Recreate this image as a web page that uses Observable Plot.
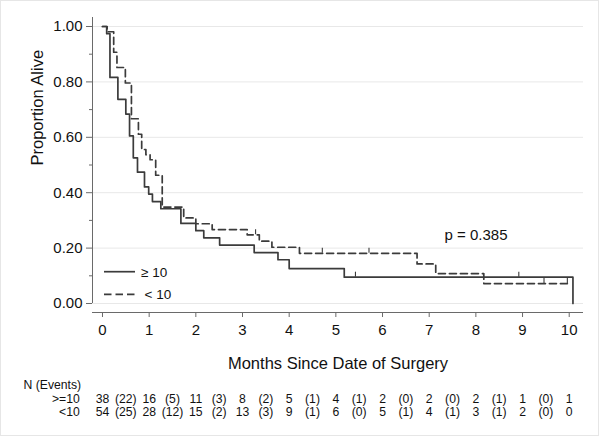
<!DOCTYPE html>
<html>
<head>
<meta charset="utf-8">
<script src="https://cdn.jsdelivr.net/npm/d3@7"></script>
<script src="https://cdn.jsdelivr.net/npm/@observablehq/plot@0.6"></script>
<style>
  html, body { margin: 0; padding: 0; background: #fff; }
  #wrap { position: relative; width: 600px; height: 436px; overflow: hidden; background: #fff;
          font-family: "Liberation Sans", Arial, sans-serif; }
  #wrap > svg { position: absolute; left: 0; top: 0; }
  #border { position: absolute; left: 0; top: 0; width: 599px; height: 436px; box-sizing: border-box;
            border: 1px solid #e6e6e6; pointer-events: none; }
</style>
</head>
<body>
<div id="wrap"></div>
<script>
// ---- Data ----
// Group ">= 10": Kaplan-Meier step points (time in months, proportion alive)
const geTime = [0, 0.09, 0.16, 0.33, 0.50, 0.58, 0.66, 0.75, 0.90, 0.99, 1.07, 1.25, 1.68, 2.00, 2.17, 2.51, 3.25, 3.76, 4.00, 5.18, 10.08];
const geSurv = [1, 0.974, 0.816, 0.737, 0.684, 0.605, 0.526, 0.474, 0.421, 0.395, 0.368, 0.342, 0.289, 0.263, 0.237, 0.211, 0.184, 0.158, 0.126, 0.095, 0];
const geCensorTime = [5.42, 8.92];
const geCensorSurv = [0.095, 0.095];

// Group "< 10"
const ltTime = [0, 0.10, 0.24, 0.31, 0.49, 0.62, 0.77, 0.84, 0.93, 1.02, 1.14, 1.28, 1.74, 2.00, 2.35, 3.10, 3.36, 3.63, 4.22, 6.74, 7.14, 8.17, 9.96];
const ltSurv = [1, 0.981, 0.907, 0.852, 0.796, 0.667, 0.611, 0.556, 0.537, 0.519, 0.463, 0.348, 0.309, 0.288, 0.267, 0.248, 0.225, 0.203, 0.181, 0.143, 0.108, 0.072, 0.072];
const ltCensorTime = [3.28, 4.71, 5.71, 9.46, 9.96];
const ltCensorSurv = [0.248, 0.181, 0.181, 0.072, 0.072];

// Number at risk table
const riskTimes = [0, 1, 2, 3, 4, 5, 6, 7, 8, 9, 10];
const geN = [38, 16, 11, 8, 5, 4, 2, 2, 2, 1, 1];
const geEvents = [22, 5, 3, 2, 1, 1, 0, 0, 1, 0];
const ltN = [54, 28, 15, 13, 9, 6, 5, 4, 3, 2, 0];
const ltEvents = [25, 12, 2, 3, 1, 0, 1, 1, 1, 0];
const rowLabels = [">=10", "<10"];
const legendLabels = ["\u2265 10", "< 10"];

// Axes
const xTicks = [0, 1, 2, 3, 4, 5, 6, 7, 8, 9, 10];
const yTicks = [0, 0.2, 0.4, 0.6, 0.8, 1.0];
const yMinorTicks = [0.1, 0.3, 0.5, 0.7, 0.9];
const xDomain = [-0.214, 10.306];
const yDomain = [0, 1.0325];
const xLabel = "Months Since Date of Surgery";
const yLabel = "Proportion Alive";
const tableTitle = "N (Events)";
const pLabel = "p = 0.385";

// ---- Build tables ----
const ge = geTime.map((t, i) => ({t, s: geSurv[i]}));
const lt = ltTime.map((t, i) => ({t, s: ltSurv[i]}));
const geC = geCensorTime.map((t, i) => ({t, s: geCensorSurv[i]}));
const ltC = ltCensorTime.map((t, i) => ({t, s: ltCensorSurv[i]}));
const midTimes = riskTimes.slice(1).map((t, i) => (riskTimes[i] + t) / 2);
const row = (ns, evs) => [
  ...riskTimes.map((t, i) => ({t, label: String(ns[i])})),
  ...midTimes.map((t, i) => ({t, label: `(${evs[i]})`}))
];
const row1 = row(geN, geEvents);
const row2 = row(ltN, ltEvents);

const lineColor = "#3b3b3b";
const axisColor = "#6a6a6a";
const textColor = "#111";

const plot = Plot.plot({
  width: 600,
  height: 436,
  marginLeft: 92,
  marginRight: 17,
  marginTop: 17,
  marginBottom: 133,
  style: {fontFamily: "'Liberation Sans', Arial, sans-serif", fontSize: "15px", background: "transparent", color: textColor, overflow: "visible"},
  x: {domain: xDomain},
  y: {domain: yDomain},
  marks: [
    Plot.gridY(yTicks, {stroke: "#e8e8e8", strokeOpacity: 1, strokeWidth: 1}),
    // y axis
    Plot.ruleX([xDomain[0]], {stroke: axisColor, strokeWidth: 1}),
    Plot.axisY(yTicks, {tickSize: 6, tickPadding: 4, tickFormat: d3.format(".2f"), stroke: axisColor, fill: textColor, fontSize: 15, label: null}),
    Plot.axisY(yMinorTicks, {tickSize: 3, tickFormat: () => "", stroke: axisColor, label: null}),
    // x axis (offset below the plot region)
    Plot.ruleY([yDomain[0]], {dy: 9, stroke: axisColor, strokeWidth: 1}),
    Plot.axisX(xTicks, {tickSize: 5, tickPadding: 7, dy: 9, stroke: axisColor, fill: textColor, fontSize: 15, label: null}),
    // curves
    Plot.line(ge, {x: "t", y: "s", curve: "step-after", stroke: lineColor, strokeWidth: 1.7}),
    Plot.line(lt, {x: "t", y: "s", curve: "step-after", stroke: lineColor, strokeWidth: 1.7, strokeDasharray: "7,4"}),
    // censor marks
    Plot.ruleX(geC, {x: "t", y1: "s", y2: "s", insetBottom: 5, stroke: lineColor, strokeWidth: 1.1}),
    Plot.ruleX(ltC, {x: "t", y1: "s", y2: "s", insetBottom: 5, stroke: lineColor, strokeWidth: 1.1}),
    // annotation
    Plot.text([pLabel], {text: d => d, frameAnchor: "top-left", dx: 352, dy: 218, textAnchor: "start", lineAnchor: "middle", fontSize: 15, fill: textColor}),
    // axis titles
    Plot.text([xLabel], {text: d => d, frameAnchor: "bottom", dy: 65, lineAnchor: "bottom", fontSize: 16.5, fill: textColor}),
    Plot.text([yLabel], {text: d => d, frameAnchor: "left", rotate: -90, dx: -54.3, dy: 5, lineAnchor: "middle", fontSize: 16.5, fill: textColor}),
    // number-at-risk table
    Plot.text([tableTitle], {text: d => d, frameAnchor: "bottom-left", dx: -69, dy: 85, textAnchor: "start", lineAnchor: "bottom", fontSize: 12.2, fill: textColor}),
    Plot.text([rowLabels[0]], {text: d => d, frameAnchor: "bottom-left", dx: -12.7, dy: 99, textAnchor: "end", lineAnchor: "bottom", fontSize: 12.2, fill: textColor}),
    Plot.text([rowLabels[1]], {text: d => d, frameAnchor: "bottom-left", dx: -12.7, dy: 112.5, textAnchor: "end", lineAnchor: "bottom", fontSize: 12.2, fill: textColor}),
    Plot.text(row1, {x: "t", text: "label", frameAnchor: "bottom", dy: 99, lineAnchor: "bottom", fontSize: 12.2, fill: textColor}),
    Plot.text(row2, {x: "t", text: "label", frameAnchor: "bottom", dy: 112.5, lineAnchor: "bottom", fontSize: 12.2, fill: textColor})
  ]
});

const wrap = document.getElementById("wrap");
wrap.appendChild(plot);

// Legend (inside the plot region, lower-left)
const ns = "http://www.w3.org/2000/svg";
const leg = document.createElementNS(ns, "svg");
leg.setAttribute("width", 600);
leg.setAttribute("height", 436);
leg.style.pointerEvents = "none";
const items = [
  {label: legendLabels[0], dash: null, y: 271.7, tx: 141},
  {label: legendLabels[1], dash: "7.5,4", y: 294.3, tx: 144.5}
];
for (const it of items) {
  const ln = document.createElementNS(ns, "line");
  ln.setAttribute("x1", 104); ln.setAttribute("x2", 135);
  ln.setAttribute("y1", it.y); ln.setAttribute("y2", it.y);
  ln.setAttribute("stroke", lineColor); ln.setAttribute("stroke-width", 1.7);
  if (it.dash) ln.setAttribute("stroke-dasharray", it.dash);
  leg.appendChild(ln);
  const tx = document.createElementNS(ns, "text");
  tx.setAttribute("x", it.tx); tx.setAttribute("y", it.y + 5);
  tx.setAttribute("font-family", "'Liberation Sans', Arial, sans-serif");
  tx.setAttribute("font-size", 13.5);
  tx.setAttribute("fill", textColor);
  tx.textContent = it.label;
  leg.appendChild(tx);
}
wrap.appendChild(leg);

const border = document.createElement("div");
border.id = "border";
wrap.appendChild(border);
</script>
</body>
</html>
